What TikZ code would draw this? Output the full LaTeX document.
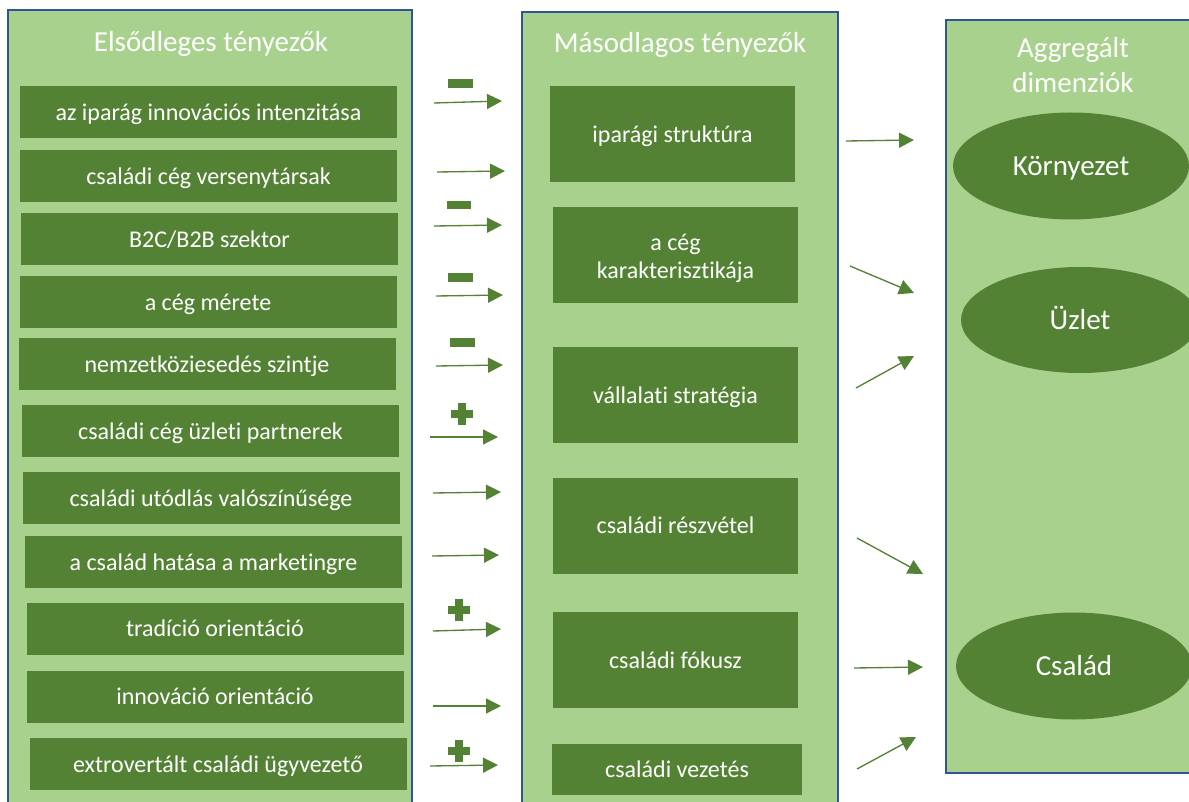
\documentclass[tikz,border=0pt]{standalone}
\usepackage{fontspec}
\setmainfont[Ligatures=NoCommon]{Carlito}
\usetikzlibrary{arrows.meta,shapes.geometric}
\definecolor{panel}{RGB}{169,209,142}
\definecolor{dark}{RGB}{84,130,53}
\definecolor{frame}{RGB}{47,85,151}
\newcommand\plussign[2]{%
  \fill[dark] (#1-4,#2-11) rectangle (#1+4,#2+11);
  \fill[dark] (#1-11,#2-4) rectangle (#1+11,#2+4);}
\begin{document}
\begin{tikzpicture}[x=0.75pt,y=-0.75pt,
  panelbox/.style={fill=panel,draw=frame,line width=1.5pt},
  lbox/.style={fill=dark,text=white,minimum width={377*0.75pt},minimum height={52*0.75pt},inner sep=0pt,
    font=\fontsize{18}{21.75}\selectfont,text height=12.5pt,text depth=0pt},
  mbox/.style={fill=dark,text=white,minimum width={245*0.75pt},minimum height={96*0.75pt},inner sep=0pt,
    font=\fontsize{18}{21.2}\selectfont,text height=12.5pt,text depth=0pt,align=center},
  ptitle/.style={text=white,inner sep=0pt,font=\fontsize{21.75}{26.25}\selectfont,align=center,text height=14pt,text depth=0pt},
  dim/.style={ellipse,fill=dark,text=white,inner sep=0pt,font=\fontsize{21.75}{26}\selectfont,text height=14pt,text depth=0pt},
  conn/.style={draw=dark,line width=1pt,-{Triangle[length=11.25pt,width=11.25pt]}}]
\clip (0,0) rectangle (1189,802);
\fill[white] (0,0) rectangle (1189,802);
% panels
\draw[panelbox] (8,10) rectangle (412,815);
\draw[panelbox] (522,12) rectangle (838,815);
\draw[panelbox] (946,20) rectangle (1200,773);
% titles
\node[ptitle] (t1) at (211,42) {Elsődleges tényezők};
\node[ptitle] (t2) at (680,43) {Másodlagos tényezők};
\node[ptitle,text height=40.25pt] (t3) at (1073,66) {Aggregált\\dimenziók};
% left boxes
\node[lbox] (l1) at (208.5,112.5) {az iparág innovációs intenzitása};
\node[lbox] (l2) at (208.5,176) {családi cég versenytársak};
\node[lbox] (l3) at (209.5,239) {B2C/B2B szektor};
\node[lbox] (l4) at (208,302) {a cég mérete};
\node[lbox] (l5) at (207,364) {nemzetköziesedés szintje};
\node[lbox] (l6) at (210.5,431) {családi cég üzleti partnerek};
\node[lbox] (l7) at (211,498) {családi utódlás valószínűsége};
\node[lbox] (l8) at (213.5,562) {a család hatása a marketingre};
\node[lbox] (l9) at (215,628.5) {tradíció orientáció};
\node[lbox] (l10) at (215,696.5) {innováció orientáció};
\node[lbox] (l11) at (218,764) {extrovertált családi ügyvezető};
% middle boxes
\node[mbox] (m1) at (672.5,134) {iparági struktúra};
\node[mbox,text height=36pt] (m2) at (675.5,255) {a cég\\karakterisztikája};
\node[mbox] (m3) at (675.5,395) {vállalati stratégia};
\node[mbox] (m4) at (675.5,525.5) {családi részvétel};
\node[mbox] (m5) at (675.5,660) {családi fókusz};
\node[mbox,minimum width={250*0.75pt},minimum height={51*0.75pt}] (m6) at (677,769) {családi vezetés};
% ellipses
\node[dim,minimum width={236*0.75pt},minimum height={107*0.75pt}] (d1) at (1071,166) {Környezet};
\node[dim,minimum width={238*0.75pt},minimum height={106*0.75pt}] (d2) at (1080,320) {Üzlet};
\node[dim,minimum width={236*0.75pt},minimum height={107*0.75pt}] (d3) at (1074,666) {Család};
% left arrows
\coordinate (a1s) at (434,103); \coordinate (a1e) at (502,101);
\coordinate (a2s) at (437,172); \coordinate (a2e) at (505,171);
\coordinate (a3s) at (434,226); \coordinate (a3e) at (502,225);
\coordinate (a4s) at (436,296); \coordinate (a4e) at (503,295);
\coordinate (a5s) at (436,366); \coordinate (a5e) at (503,365);
\coordinate (a6s) at (430,437); \coordinate (a6e) at (498,437);
\coordinate (a7s) at (433,493); \coordinate (a7e) at (501,492);
\coordinate (a8s) at (432,556); \coordinate (a8e) at (499,555);
\coordinate (a9s) at (433,631); \coordinate (a9e) at (501,629);
\coordinate (a10s) at (433,706); \coordinate (a10e) at (501,706);
\coordinate (a11s) at (430,766); \coordinate (a11e) at (498,765);
\foreach \i in {1,...,11} {\draw[conn] (a\i s) -- (a\i e);}
% right arrows
\coordinate (b1s) at (846,141); \coordinate (b1e) at (914,140);
\coordinate (b2s) at (850,266); \coordinate (b2e) at (914,293);
\coordinate (b3s) at (856,388); \coordinate (b3e) at (914,356);
\coordinate (b4s) at (857,538); \coordinate (b4e) at (923,574);
\coordinate (b5s) at (854,668); \coordinate (b5e) at (923,667);
\coordinate (b6s) at (857,769); \coordinate (b6e) at (916,737);
\foreach \i in {1,...,6} {\draw[conn] (b\i s) -- (b\i e);}
% signs
\fill[dark] (448,79) rectangle (473,88);
\fill[dark] (447,201) rectangle (471,209);
\fill[dark] (448,273) rectangle (473,282);
\fill[dark] (450,338) rectangle (475,347);
\plussign{462}{414}
\plussign{459}{610}
\plussign{459}{751}
\end{tikzpicture}
\end{document}
